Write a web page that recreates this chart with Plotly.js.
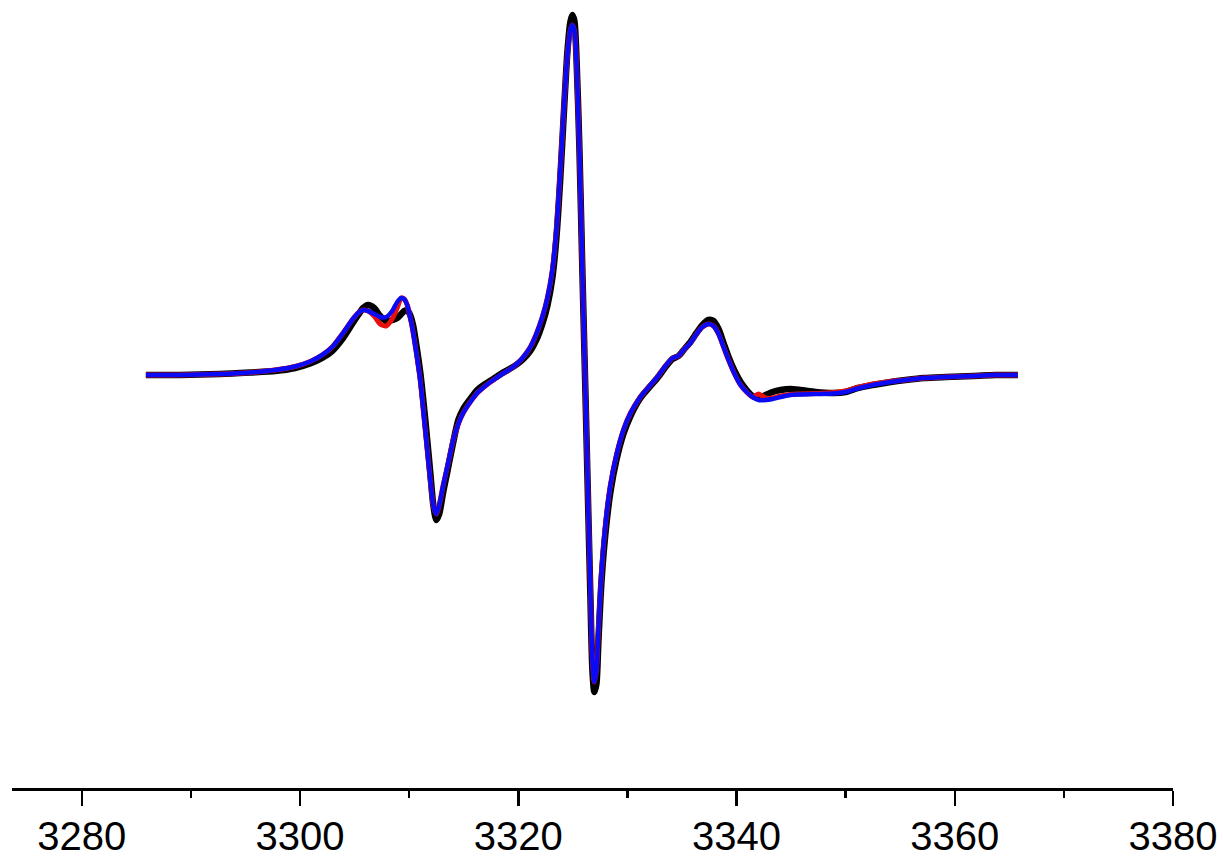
<!DOCTYPE html>
<html>
<head>
<meta charset="utf-8">
<script src="https://cdn.plot.ly/plotly-3.0.1.min.js"></script>
<style>html,body{margin:0;padding:0;background:#fff;}#chart{width:1223px;height:859px;}</style>
</head>
<body>
<div id="chart"></div>
<script>
// Magnetic field (G)
const field = [3285.87,3288.99,3292.66,3295.41,3297.71,3299.54,3300.92,3302.02,3302.94,3303.94,
3304.77,3305.32,3305.78,3306.24,3306.79,3307.34,3307.89,3308.44,3308.90,3309.27,
3309.54,3309.82,3310.09,3310.37,3310.64,3311.01,3311.47,3311.93,3312.20,3312.48,
3312.75,3313.12,3313.49,3314.04,3314.50,3314.95,3315.60,3316.24,3316.97,3317.71,
3318.53,3319.27,3319.91,3320.46,3321.10,3321.65,3322.20,3322.66,3323.12,3323.49,
3323.85,3324.22,3324.50,3324.77,3324.95,3325.14,3325.32,3325.60,3325.87,3326.15,
3326.42,3326.61,3326.79,3326.97,3327.16,3327.34,3327.61,3327.98,3328.44,3328.99,
3329.63,3330.28,3331.19,3332.11,3332.75,3333.49,3334.13,3334.68,3335.23,3335.78,
3336.33,3336.88,3337.43,3337.89,3338.35,3338.81,3339.27,3339.82,3340.37,3340.92,
3341.47,3342.02,3342.66,3343.30,3344.04,3344.95,3345.87,3347.25,3348.90,3350.00,
3351.10,3352.48,3354.13,3355.50,3357.16,3359.17,3361.74,3363.76,3365.78];

// EPR signal (arb. units)
const blackSeries = [-1,-1,0,1.5,3,6,10.5,16,23,36,
50,59,66,69,66,58,53,54,56,60,
63,64,59,48,30,2,-45,-98,-130,-146,
-140,-118,-98,-68,-46,-35,-25,-16,-10,-5,
1,5.5,10,15,23,34,50,68,96,136,
196,270,322,352,359,353,320,226,104,-18,
-140,-224,-296,-318,-310,-268,-210,-160,-118,-86,
-60,-42,-24,-12,-4,7,15,18,25,32,
41,49,54,53,45,31,17,3,-8,-16,
-22,-24,-21,-18,-16,-15,-16,-18,-19,-18,
-14,-11,-8,-6,-4,-3,-2,-1,-1];

const redSeries = [-1,-1,0,1.5,4,7.5,12.5,19,27,41,
54,61,64,63,58,50,48,55,66,76,
75,69,57,41,22,-6,-56,-106,-131,-140,
-131,-111,-93,-66,-50,-39,-28,-19,-12,-6,
0,5,10.5,17,27,40,57,76,104,144,
204,274,319,344,349,344,314,224,104,-16,
-136,-216,-286,-308,-296,-256,-201,-151,-111,-81,
-56,-39,-23,-11,-3,8,16,18,25,31,
40,47,50,48,40,27,14,0,-11,-18,
-23,-20,-24,-24,-22,-20.5,-20,-19.5,-18.5,-17,
-13.5,-10,-7.5,-6,-4,-3,-2,-1,-1];

const blueSeries = [-1,-1,0,1.5,4,7.5,12.5,19,27,41,
54,61,64,63,60,57,57,63,72,76,
75,69,57,41,22,-6,-56,-106,-131,-140,
-131,-111,-93,-66,-50,-39,-28,-19,-12,-6,
0,5,10.5,17,27,40,57,76,104,144,
204,274,319,344,349,344,314,224,104,-16,
-136,-216,-286,-308,-296,-256,-201,-151,-111,-81,
-56,-39,-23,-11,-3,8,16,18,25,31,
40,47,50,48,40,27,14,0,-11,-18,
-23,-26,-26,-25,-23,-21,-20.5,-20,-19.5,-18,
-14.5,-11,-8,-6,-4,-3,-2,-1,-1];

const tickVals = [3280,3300,3320,3340,3360,3380];
const tickText = ['3280','3300','3320','3340','3360','3380'];

const traces = [
  {x: field, y: blackSeries, mode: 'lines', line: {color: '#000000', width: 6.5, shape: 'spline', smoothing: 0.7}, hoverinfo: 'skip'},
  {x: field, y: redSeries, mode: 'lines', line: {color: '#e8100c', width: 5, shape: 'spline', smoothing: 0.7}, hoverinfo: 'skip'},
  {x: field, y: blueSeries, mode: 'lines', line: {color: '#0a0af5', width: 4.5, shape: 'spline', smoothing: 0.7}, hoverinfo: 'skip'}
];

const layout = {
  width: 1223, height: 859,
  margin: {l: 12, r: 50, t: 0, b: 71},
  paper_bgcolor: '#ffffff', plot_bgcolor: '#ffffff',
  showlegend: false,
  xaxis: {
    range: [3273.6, 3380],
    showline: true, linecolor: '#000000', linewidth: 2.5,
    showgrid: false, zeroline: false,
    ticks: 'outside', ticklen: 15, tickwidth: 2.5, tickcolor: '#000000',
    tickvals: tickVals, ticktext: tickText,
    ticklabelstandoff: -4,
    tickfont: {family: 'Liberation Sans, Arial, sans-serif', size: 40, color: '#000000'},
    minor: {ticks: 'outside', ticklen: 7, tickwidth: 2.5, tickcolor: '#000000', dtick: 10, tick0: 3280, showgrid: false},
    fixedrange: true
  },
  yaxis: {range: [-414, 374], visible: false, fixedrange: true}
};

Plotly.newPlot('chart', traces, layout, {staticPlot: true, displayModeBar: false});
</script>
</body>
</html>
